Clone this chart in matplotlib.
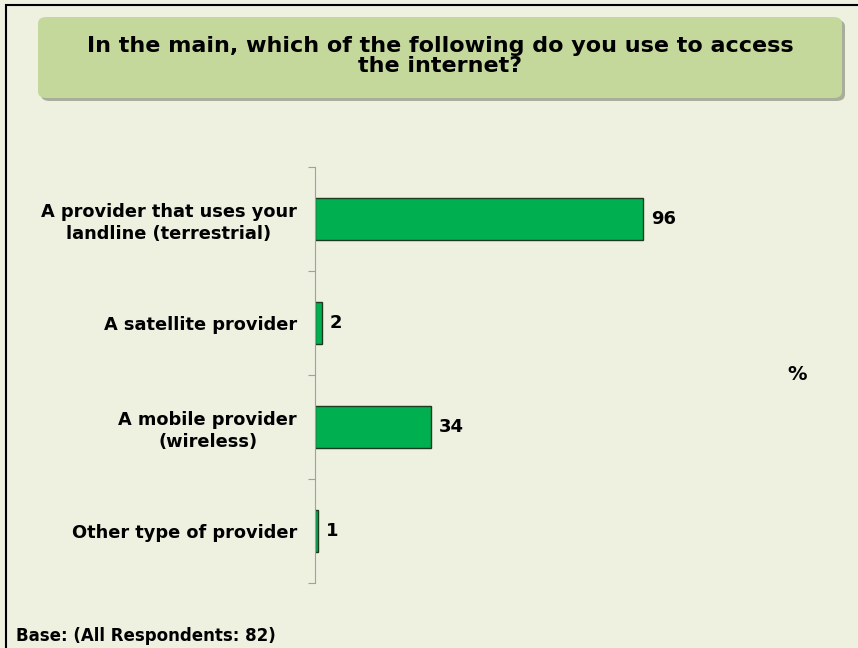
import matplotlib.pyplot as plt
import matplotlib.patches as pc
import numpy as np

plt.rcParams['font.family'] = ['DejaVu Sans']

categories = ["A provider that uses your\nlandline (terrestrial)",
              "A satellite provider",
              "A mobile provider\n(wireless)",
              "Other type of provider"]
values = [96, 2, 34, 1]

W, H = 858, 648
fig = plt.figure(figsize=(W / 100, H / 100), dpi=100)
fig.patch.set_facecolor('#EEF0E0')

# outer frame (runs off the right and bottom edges)
fig.add_artist(pc.Rectangle((6 / W, -0.01), 1.0, 1.0 - 5 / H + 0.01,
                            transform=fig.transFigure, fill=False,
                            edgecolor='black', linewidth=1.5))

# title box with a soft shadow
for dx, dy, col in [(3, 3, '#A9AE9A'), (0, 0, '#C5D89C')]:
    fig.add_artist(pc.FancyBboxPatch(((38 + dx) / W, 1 - (98 + dy) / H),
                                     804 / W, 81 / H,
                                     boxstyle='round,pad=0,rounding_size=0.01',
                                     transform=fig.transFigure,
                                     facecolor=col, edgecolor='none'))
fig.text(440 / W, 1 - 56 / H,
         "In the main, which of the following do you use to access\nthe internet?",
         ha='center', va='center', fontsize=16, fontweight='bold',
         linespacing=0.95)

# plot area: y axis at x=315, categories between y=167 and y=583
ax = fig.add_axes([315 / W, 1 - 583 / H, 342 / W, 416 / H])
ax.set_facecolor('none')
y = np.arange(len(categories))
ax.barh(y, values, height=0.4, color='#00B050', edgecolor='#1E3A1E', linewidth=1)
ax.set_xlim(0, 100)
ax.set_ylim(len(categories) - 0.5, -0.5)

for yi, v in zip(y, values):
    ax.text(v + 2.2, yi, str(v), ha='left', va='center',
            fontsize=13, fontweight='bold')

for s in ['top', 'right', 'bottom']:
    ax.spines[s].set_visible(False)
ax.spines['left'].set_color('#A0A0A0')
ax.set_xticks([])
ax.set_yticks(np.arange(-0.5, len(categories)), minor=False)
ax.set_yticklabels([])
ax.tick_params(axis='y', length=5, color='#A0A0A0', direction='out')
ax.set_yticks(y, minor=True)
ax.set_yticklabels(categories, minor=True, fontsize=12.8, fontweight='bold',
                   ha='right', multialignment='center', linespacing=1.3)
ax.tick_params(axis='y', which='minor', length=0, pad=13)

fig.text(797 / W, 1 - 374 / H, "%", ha='center', va='center',
         fontsize=14, fontweight='bold')
fig.text(16 / W, 1 - 636 / H, "Base: (All Respondents: 82)", ha='left',
         va='center', fontsize=12, fontweight='bold')

fig.savefig('out.png', dpi=100, facecolor=fig.get_facecolor())
